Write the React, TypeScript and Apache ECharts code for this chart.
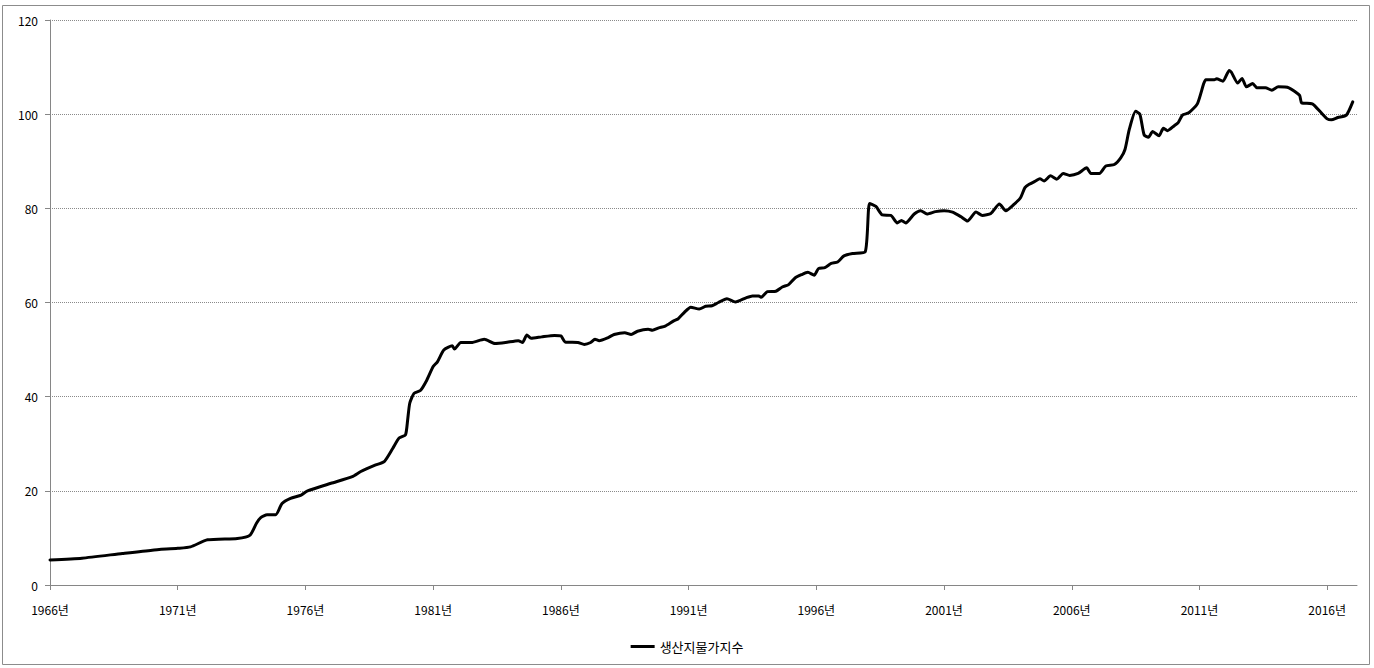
import React, { useEffect, useRef } from "react";
import * as echarts from "echarts";

// Months since January 1966 (index 0 = 1966-01)
const months: number[] = [
  0, 15, 34, 48, 60, 66, 74, 88, 94, 97, 99, 102, 106, 109, 113, 118, 121,
  132, 142, 146, 153, 157, 161, 164, 167, 168, 169, 171, 174, 177, 180, 182, 185,
  189, 190, 193, 198, 204, 209, 214, 220, 222, 224, 226, 231, 237, 240,
  242, 248, 251, 254, 256, 258, 262, 265, 270, 273, 276, 281, 283, 286, 289,
  293, 295, 298, 301, 305, 308, 311, 314, 318, 322, 327, 330, 333, 334, 337,
  341, 344, 347, 350, 353, 356, 359, 361, 364, 367, 370, 373, 377, 383,
  385, 388, 391, 395, 398, 400, 402, 406, 409, 412, 416, 420, 424, 428, 431,
  435, 438, 442, 446, 449, 453, 456, 458, 460, 463, 465, 467, 470, 473, 476,
  479, 483, 487, 489, 493, 496, 500, 503, 505, 507, 510, 512, 514, 516, 518,
  521, 523, 525, 528, 530, 532, 535, 539, 542, 543, 547, 548, 551, 554, 555,
  558, 560, 562, 565, 567, 571, 574, 577, 582, 587, 588, 593, 597, 600, 602,
  605, 609, 612,
];

// 생산지물가지수 values
const values: number[] = [
  5.3, 5.7, 6.7, 7.4, 7.8, 8.1, 9.6, 9.9, 10.6, 13.1, 14.3, 14.9, 14.9, 17.3, 18.4, 19.1, 20.0,
  21.6, 23.0, 24.1, 25.5, 26.2, 29.0, 31.2, 31.9, 35.0, 38.6, 40.7, 41.3, 43.5, 46.4, 47.4, 49.9,
  50.8, 50.1, 51.5, 51.5, 52.2, 51.3, 51.5, 51.9, 51.5, 53.1, 52.4, 52.7, 53.0, 52.9,
  51.6, 51.5, 51.1, 51.5, 52.2, 51.9, 52.5, 53.2, 53.6, 53.2, 53.9, 54.3, 54.1, 54.6, 55.0,
  56.1, 56.5, 57.9, 59.0, 58.6, 59.2, 59.3, 60.0, 60.8, 60.1, 61.0, 61.4, 61.4, 61.1, 62.3,
  62.4, 63.3, 63.8, 65.2, 65.9, 66.4, 65.8, 67.2, 67.4, 68.3, 68.6, 69.9, 70.4, 70.8,
  81.0, 80.4, 78.6, 78.5, 76.9, 77.4, 76.9, 78.8, 79.5, 78.8, 79.3, 79.5, 79.2, 78.2, 77.3,
  79.2, 78.5, 78.9, 80.9, 79.5, 80.9, 82.3, 84.4, 85.1, 85.8, 86.3, 85.8, 86.9, 86.2, 87.4,
  87.0, 87.4, 88.6, 87.4, 87.4, 89.0, 89.3, 90.7, 92.5, 96.7, 100.6, 100.0, 95.6, 95.1, 96.3,
  95.4, 97.0, 96.5, 97.5, 98.2, 99.8, 100.3, 102.2, 106.5, 107.3, 107.3, 107.5, 107.0, 109.3, 108.9,
  106.6, 107.6, 105.8, 106.5, 105.6, 105.6, 105.1, 105.8, 105.6, 104.0, 102.4, 102.2, 100.4, 99.0, 98.8,
  99.3, 99.8, 102.6,
];

const seriesName = "생산지물가지수";
const xTickMonths: number[] = [0, 60, 120, 180, 240, 300, 360, 420, 480, 540, 600];
const startYear = 1966;

export default function App() {
  const ref = useRef<HTMLDivElement>(null);
  useEffect(() => {
    document.body.style.margin = "0";
    if (!ref.current) return;
    const chart = echarts.init(ref.current, null, { renderer: "svg" });
    const font = "'Noto Sans CJK KR', 'Noto Sans', sans-serif";
    chart.setOption({
      animation: false,
      backgroundColor: "#fff",
      textStyle: { fontFamily: font },
      grid: { left: 50, right: 17, top: 20, bottom: 83, containLabel: false },
      graphic: [
        {
          type: "rect",
          shape: { x: 2.5, y: 5.5, width: 1367, height: 659 },
          style: { fill: "none", stroke: "#8c8c8c", lineWidth: 1 },
          silent: true,
        },
      ],
      xAxis: {
        type: "value",
        min: 0,
        max: 614,
        interval: 60,
        axisLine: { show: true, lineStyle: { color: "#868686", width: 1 } },
        axisTick: {
          show: true,
          length: 5,
          customValues: xTickMonths,
          lineStyle: { color: "#868686" },
        },
        splitLine: { show: false },
        axisLabel: {
          customValues: xTickMonths,
          margin: 18,
          fontSize: 12,
          color: "#000",
          fontFamily: font,
          formatter: (v: number) => `${startYear + Math.round(v / 12)}년`,
        },
      },
      yAxis: {
        type: "value",
        min: 0,
        max: 120,
        interval: 20,
        axisLine: { show: true, lineStyle: { color: "#868686", width: 1 } },
        axisTick: { show: true, length: 5, lineStyle: { color: "#868686" } },
        splitLine: { show: true, lineStyle: { color: "#8a8a8a", type: [1, 1], width: 1 } },
        axisLabel: { margin: 12, fontSize: 12, color: "#000", fontFamily: font },
      },
      legend: {
        show: true,
        left: "center",
        top: 635,
        icon: "rect",
        itemWidth: 24,
        itemHeight: 3,
        itemGap: 10,
        textStyle: { fontSize: 13, color: "#000", fontFamily: font },
        data: [{ name: seriesName, itemStyle: { color: "#000" } }],
      },
      series: [
        {
          name: seriesName,
          type: "line",
          data: months.map((m, i) => [m, values[i]]),
          showSymbol: false,
          symbol: "none",
          smooth: 0.2,
          lineStyle: { color: "#000", width: 3, join: "round", cap: "round" },
          itemStyle: { color: "#000" },
        },
      ],
    });
    return () => chart.dispose();
  }, []);
  return <div ref={ref} style={{ width: 1374, height: 668 }} />;
}
